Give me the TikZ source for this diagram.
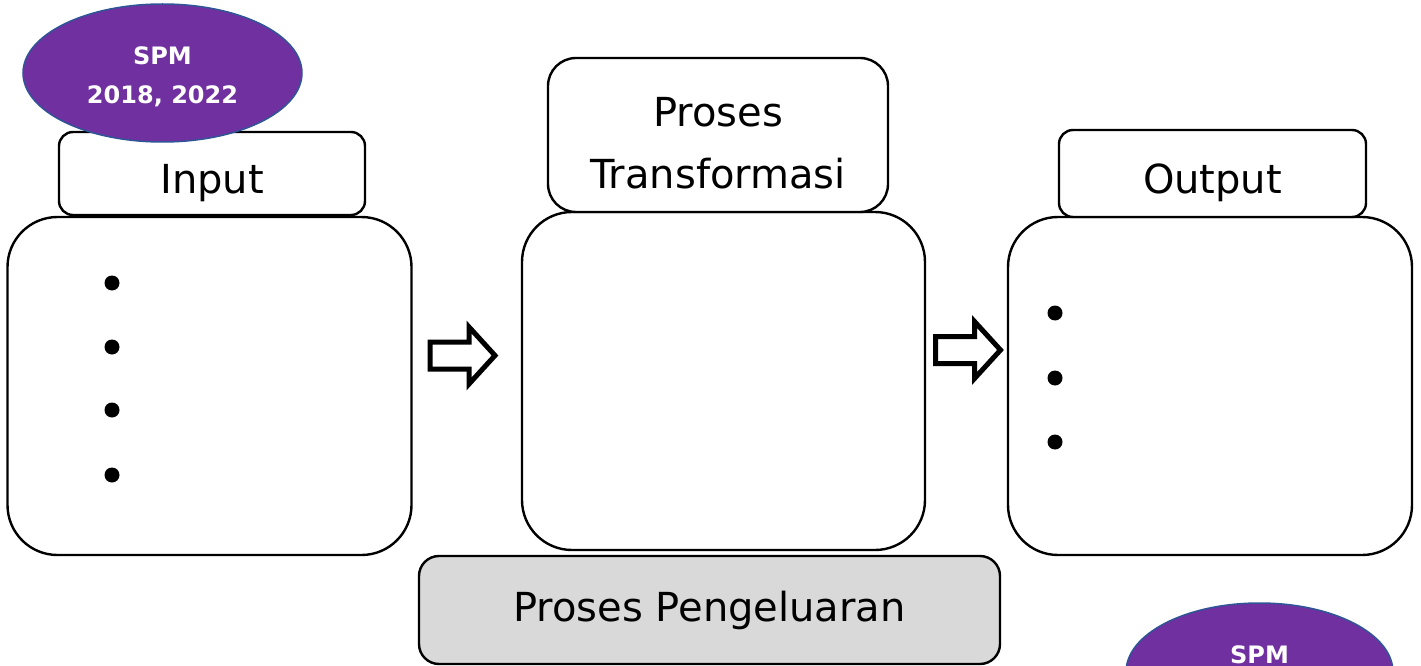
\documentclass[tikz,border=0pt]{standalone}
\usepackage{fontspec}
\setmainfont{DejaVu Sans}
\usepackage{xcolor}
\usepackage{tikz}
\usetikzlibrary{positioning,shapes.geometric}
\definecolor{spm}{RGB}{112,48,160}
\definecolor{spmedge}{RGB}{47,85,151}
\definecolor{pengel}{RGB}{217,217,217}

\begin{document}
\begin{tikzpicture}[x=1pt,y=-1pt,line width=2.4pt,font=\fontsize{40}{62}\selectfont,
  bigbox/.style={draw,fill=white,rounded corners=50pt,minimum width=404pt,minimum height=338pt,inner sep=0pt},
  tagbox/.style={draw,fill=white,rounded corners=14pt,inner sep=0pt},
  tagline/.style={text height=45pt,text depth=6pt},
  spmoval/.style={ellipse,draw=spmedge,line width=1.5pt,fill=spm,inner sep=0pt},
  spmtext/.style={text=white,align=center,font=\fontsize{24}{39}\selectfont\bfseries},
  blockarrow/.style={draw,line width=5pt,miter limit=10}]
\useasboundingbox (0,0) rectangle (1421,666);
% main boxes
\node[bigbox] (inbox) at (209.5,386) {};
\node[bigbox,minimum width=403pt] (procbox) at (723.5,381) {};
\node[bigbox] (outbox) at (1210,386) {};
% heading tabs
\node[tagbox,tagline,minimum width=306pt,minimum height=83pt] (intag) at (212,173.5) {Input};
\node[tagbox,rounded corners=28pt,minimum width=340pt,minimum height=154pt,align=center,text height=106pt,text depth=0pt] (proctag) at (718,135) {Proses\\Transformasi};
\node[tagbox,tagline,minimum width=307pt,minimum height=87pt] (outtag) at (1212.5,173.5) {Output};
% bullets
\foreach \y in {283,347,410,475} \fill (112,\y) circle (7.5);
\foreach \y in {313,378,442} \fill (1055,\y) circle (7.5);
% block arrows
\foreach \ax/\ay in {430/355.5,935.5/350}
  \draw[blockarrow] (\ax,\ay-13.5) -- ++(39,0) -- ++(0,-15) -- ++(26,28.5)
    -- ++(-26,28.5) -- ++(0,-15) -- ++(-39,0) -- cycle;
% bottom process
\node[draw,fill=pengel,rounded corners=20pt,minimum width=581pt,minimum height=108pt] (pengel) at (709.5,610) {Proses Pengeluaran};
% SPM badges
\node[spmoval,minimum width=279pt,minimum height=138pt] (spmA) at (162.5,73) {};
\node[spmtext] (spmAtxt) at (162.5,77) {SPM\\2018, 2022};
\node[spmoval,minimum width=267pt,minimum height=138pt] (spmB) at (1259.5,672) {};
\node[spmtext,anchor=base] (spmBtxt) at (1259.5,663) {SPM};
\end{tikzpicture}
\end{document}
